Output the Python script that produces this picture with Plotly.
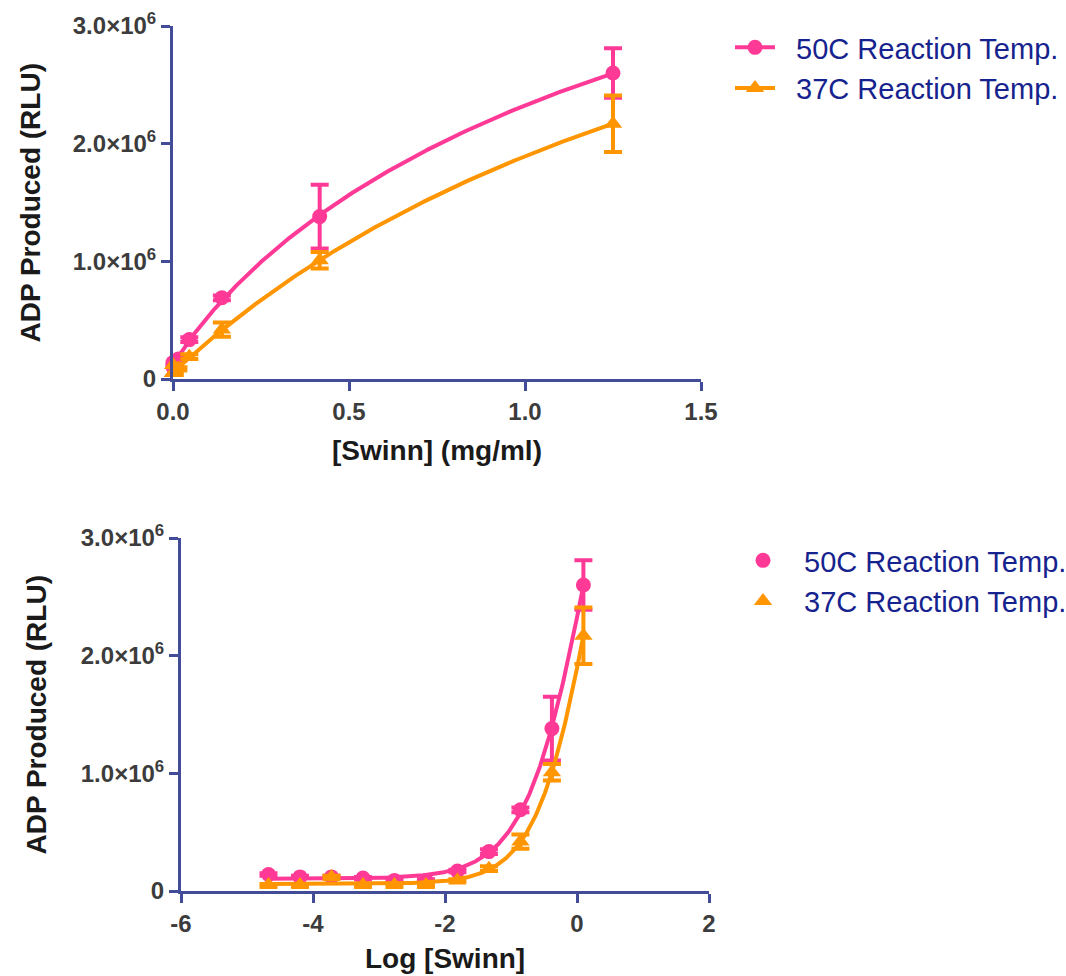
import numpy as np
import plotly.graph_objects as go

# ---------------- data ----------------
conc = [1.25, 0.4167, 0.1389, 0.0463, 0.01543, 0.005144, 0.001715,
        0.0005716, 0.0001905, 0.0000635, 0.00002117]          # mg/ml
y50 = [2.60e6, 1.38e6, 0.69e6, 0.335e6, 0.17e6, 0.09e6, 0.09e6,
       0.11e6, 0.12e6, 0.12e6, 0.14e6]
err50 = [0.21e6, 0.27e6, 0.02e6, 0.02e6, 0.01e6, 0.01e6, 0.01e6,
         0.01e6, 0.01e6, 0.01e6, 0.01e6]
y37 = [2.17e6, 1.01e6, 0.42e6, 0.19e6, 0.09e6, 0.05e6, 0.05e6,
       0.05e6, 0.12e6, 0.05e6, 0.05e6]
err37 = [0.24e6, 0.07e6, 0.06e6, 0.02e6, 0.01e6, 0.01e6, 0.01e6,
         0.01e6, 0.01e6, 0.01e6, 0.01e6]
series_names = ["50C Reaction Temp.", "37C Reaction Temp."]
y_tickvals = [0, 1e6, 2e6, 3e6]
y_ticktext = ["0", "1.0×10<sup>6</sup>", "2.0×10<sup>6</sup>", "3.0×10<sup>6</sup>"]
x1_tickvals = [0.0, 0.5, 1.0, 1.5]
x1_ticktext = ["0.0", "0.5", "1.0", "1.5"]
x2_tickvals = [-6, -4, -2, 0, 2]
x2_ticktext = ["-6", "-4", "-2", "0", "2"]
titles = {"x1": "[Swinn] (mg/ml)", "x2": "Log [Swinn]", "y": "ADP Produced (RLU)"}

PINK = "#FF3A96"
ORANGE = "#FF9500"
AXIS = "#434C96"
TICKC = "#3C3C3C"
LEGC = "#16238E"
FONT = "Arial, Liberation Sans, sans-serif"


# ---------------- 4-parameter logistic fit (grid search, linear in B/T) ----------------
def fit4pl(x, y):
    X = np.log10(np.asarray(x))
    Y = np.asarray(y, dtype=float)
    lc = np.linspace(-2.0, 2.5, 451)[:, None, None]
    hh = np.linspace(0.3, 3.0, 271)[None, :, None]
    f = 1.0 / (1.0 + 10 ** ((lc - X[None, None, :]) * hh))
    g = 1.0 - f
    a11 = (g * g).sum(-1); a12 = (g * f).sum(-1); a22 = (f * f).sum(-1)
    b1 = (g * Y).sum(-1); b2 = (f * Y).sum(-1)
    det = a11 * a22 - a12 * a12
    B = (a22 * b1 - a12 * b2) / det
    T = (a11 * b2 - a12 * b1) / det
    pred = B[..., None] * g + T[..., None] * f
    sse = ((pred - Y) ** 2).sum(-1)
    i, j = np.unravel_index(np.nanargmin(sse), sse.shape)
    return B[i, j], T[i, j], lc[i, 0, 0], hh[0, j, 0]


def model(X, p):
    B, T, lc, h = p
    return B + (T - B) / (1.0 + 10 ** ((lc - X) * h))


p50 = fit4pl(conc, y50)
p37 = fit4pl(conc, y37)

xmin, xmax = min(conc), max(conc)
xl = np.linspace(xmin, xmax, 400)
Xg = np.linspace(np.log10(xmin), np.log10(xmax), 400)
logc = np.log10(conc)

fig = go.Figure()
common_err = dict(type="data", visible=True, thickness=4, width=9)
NB = "\u00a0\u00a0"

for name, ys, es, p, col, sym, msz in [
        (series_names[0], y50, err50, p50, PINK, "circle", 15),
        (series_names[1], y37, err37, p37, ORANGE, "triangle-up", 16)]:
    # ---- top: linear x ----
    fig.add_trace(go.Scatter(x=xl, y=model(np.log10(xl), p), mode="lines",
                             line=dict(color=col, width=4), showlegend=False,
                             hoverinfo="skip", xaxis="x", yaxis="y", cliponaxis=False))
    fig.add_trace(go.Scatter(x=conc, y=ys, mode="markers", name=name, showlegend=False,
                             marker=dict(color=col, size=msz, symbol=sym),
                             error_y=dict(array=es, color=col, **common_err),
                             xaxis="x", yaxis="y", cliponaxis=False))
    # legend entry (line + symbol)
    fig.add_trace(go.Scatter(x=[None], y=[None], mode="lines+markers", name=NB + name,
                             line=dict(color=col, width=4),
                             marker=dict(color=col, size=msz, symbol=sym),
                             xaxis="x", yaxis="y", legend="legend"))
    # ---- bottom: log x ----
    fig.add_trace(go.Scatter(x=Xg, y=model(Xg, p), mode="lines",
                             line=dict(color=col, width=4), showlegend=False,
                             hoverinfo="skip", xaxis="x2", yaxis="y2", cliponaxis=False))
    fig.add_trace(go.Scatter(x=logc, y=ys, mode="markers", name=NB + name,
                             marker=dict(color=col, size=msz, symbol=sym),
                             error_y=dict(array=es, color=col, **common_err),
                             xaxis="x2", yaxis="y2", cliponaxis=False,
                             legend="legend2"))

W, H = 1066, 976
tickfont = dict(family=FONT, size=24, color=TICKC, weight="bold")
titlefont = dict(family=FONT, size=28, color="#1A1A1A", weight="bold")
axcommon = dict(showline=True, linecolor=AXIS, linewidth=3, ticks="outside",
                tickcolor=AXIS, tickwidth=3, ticklen=9, showgrid=False,
                zeroline=False, tickfont=tickfont, mirror=False, automargin=False)

top = dict(x0=173, x1=701, y0=26, y1=379)
bot = dict(x0=181, x1=709, y0=538, y1=891)

fig.update_layout(
    width=W, height=H, margin=dict(l=0, r=0, t=0, b=0, autoexpand=False),
    paper_bgcolor="white", plot_bgcolor="white",
    xaxis=dict(domain=[top["x0"] / W, top["x1"] / W], anchor="y", range=[0, 1.5],
               tickvals=x1_tickvals, ticktext=x1_ticktext, **axcommon),
    yaxis=dict(domain=[1 - top["y1"] / H, 1 - top["y0"] / H], anchor="x", range=[0, 3e6],
               tickvals=y_tickvals, ticktext=y_ticktext, **axcommon),
    xaxis2=dict(domain=[bot["x0"] / W, bot["x1"] / W], anchor="y2", range=[-6, 2],
                tickvals=x2_tickvals, ticktext=x2_ticktext, **axcommon),
    yaxis2=dict(domain=[1 - bot["y1"] / H, 1 - bot["y0"] / H], anchor="x2", range=[0, 3e6],
                tickvals=y_tickvals, ticktext=y_ticktext, **axcommon),
    legend=dict(x=730 / W, y=1 - 22 / H, xanchor="left", yanchor="top",
                font=dict(family=FONT, size=29, color=LEGC),
                bgcolor="rgba(0,0,0,0)", itemwidth=40),
    legend2=dict(x=738 / W, y=1 - 535 / H, xanchor="left", yanchor="top",
                 font=dict(family=FONT, size=29, color=LEGC),
                 bgcolor="rgba(0,0,0,0)", itemwidth=40),
    showlegend=True,
    annotations=[
        dict(text=titles["x1"], x=(top["x0"] + top["x1"]) / 2 / W, y=1 - 450 / H,
             xref="paper", yref="paper", showarrow=False, font=titlefont,
             xanchor="center", yanchor="middle"),
        dict(text=titles["y"], x=30 / W, y=1 - (top["y0"] + top["y1"]) / 2 / H,
             xref="paper", yref="paper", showarrow=False, font=titlefont, textangle=-90,
             xanchor="center", yanchor="middle"),
        dict(text=titles["x2"], x=(bot["x0"] + bot["x1"]) / 2 / W, y=1 - 958 / H,
             xref="paper", yref="paper", showarrow=False, font=titlefont,
             xanchor="center", yanchor="middle"),
        dict(text=titles["y"], x=36 / W, y=1 - (bot["y0"] + bot["y1"]) / 2 / H,
             xref="paper", yref="paper", showarrow=False, font=titlefont, textangle=-90,
             xanchor="center", yanchor="middle"),
    ],
)

fig.write_html("out.html")
